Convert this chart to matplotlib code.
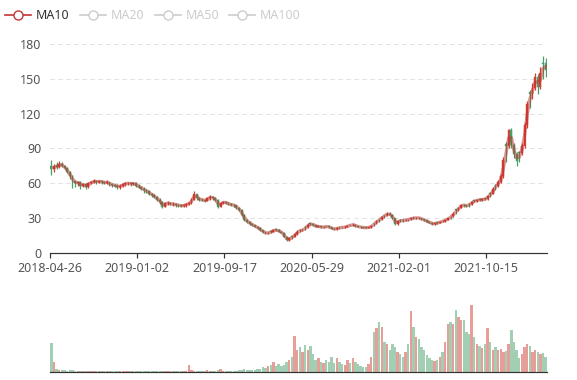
import matplotlib
matplotlib.use("Agg")
import matplotlib.pyplot as plt
import numpy as np

# ---------------- data (weekly bars) ----------------
open_ = [
    75, 72, 75.5, 74, 77, 75, 73, 70, 66, 62,
    60, 61, 58, 59, 57, 60, 61, 62, 61, 62,
    61, 60.5, 61, 59, 58.5, 58, 57, 57.5, 59, 60,
    60, 59.5, 60, 58, 57, 55.5, 54, 53, 51, 50,
    48, 46, 44, 40, 43, 43, 42, 42, 41.5, 41,
    40.5, 41, 42, 43, 46, 51, 47, 46, 45.5, 45,
    47, 48.5, 47, 45.5, 40, 43, 44, 43, 42, 41.5,
    41, 39, 37, 33, 28.5, 27, 25, 24, 22.5, 21.5,
    19.5, 18, 17, 18.8, 18.5, 20.3, 20, 18.5, 17.5, 14,
    11, 14.5, 14, 16, 20, 19.5, 22.5, 22, 25.5, 25,
    24, 22.7, 23, 22, 23.3, 23, 22, 21, 20.5, 22.3,
    22.3, 22, 22.5, 24.2, 24, 24.5, 23, 22.7, 22, 22.2,
    21.8, 22, 25.8, 25.5, 29.3, 29, 33, 32.5, 34, 33,
    30, 25, 28.5, 28.6, 28, 29.3, 29, 30.6, 30, 30.5,
    30, 29, 28, 27, 26, 25, 26.3, 26, 27.8, 27.5,
    28.5, 31.8, 31.5, 37.5, 37, 39, 41.5, 41, 42.5, 42,
    45.5, 45, 46.5, 46, 47, 46.5, 51.5, 51, 58.5, 58,
    61, 66, 94, 92, 106, 93, 85, 87, 86, 92,
    110, 139, 137, 142, 152, 143, 164, 164,
]
close = [
    72, 75, 74, 77, 75, 73, 70, 66, 62, 60,
    61, 58, 59, 57, 60, 61, 62, 61, 62, 61,
    60.5, 61, 59, 58.5, 58, 57, 57.5, 59, 60, 60,
    59.5, 60, 58, 57, 55.5, 54, 53, 51, 50, 48,
    46, 44, 40, 43, 43, 42, 42, 41.5, 41, 40.5,
    41, 42, 43, 46, 51, 47, 46, 45.5, 45, 47,
    48.5, 47, 45.5, 40, 43, 44, 43, 42, 41.5, 41,
    39, 37, 33, 28.5, 27, 25, 24, 22.5, 21.5, 19.5,
    18, 17, 17.5, 18.5, 19.5, 20, 18.5, 17.5, 14, 11,
    12.5, 14, 16, 18.5, 19.5, 20, 22, 24.5, 25, 24,
    22.7, 23, 22, 22.5, 23, 22, 21, 20.5, 21.5, 22,
    22, 22.5, 23.5, 24, 24.5, 23, 22.7, 22, 21.8, 21.8,
    22, 23.5, 25.5, 27.5, 29, 31, 32.5, 34, 33, 30,
    25, 27.5, 28, 28, 28.4, 29, 30, 30, 30.5, 30,
    29, 28, 27, 26, 25, 25.5, 26, 27, 27.5, 28.5,
    30, 31.5, 34, 37, 39, 41.5, 41, 40.5, 42, 44,
    45, 45.5, 46, 46, 46.5, 49, 51, 55, 58, 61,
    66, 80, 92, 106, 93, 85, 79, 86, 92, 110,
    128, 137, 142, 152, 143, 155, 163, 158,
]
high = [
    80, 77, 78, 79, 78, 76, 74, 71, 67, 63,
    62, 62, 60, 60, 61, 62, 63.5, 63, 63, 63,
    62, 62.5, 61.5, 60, 59.5, 59, 59, 60, 61, 61.5,
    61, 61, 61, 59, 58, 57, 55, 54, 52, 51,
    49, 47, 45, 44, 44.5, 44, 43.5, 43, 42.5, 42,
    42, 43, 44, 47, 53, 51, 48, 47, 46.5, 48,
    50, 49.5, 48, 46.5, 44, 45, 45, 44, 43, 42.5,
    41.5, 39.5, 37.5, 33.5, 29.5, 27.5, 25.5, 24.5, 23, 22,
    20, 18.5, 18.5, 19.5, 20.5, 21, 20.5, 19, 18, 14.5,
    13.5, 15, 17, 19.5, 20.5, 21, 23, 26, 27, 25.5,
    24.5, 24, 23.5, 23, 23.5, 23.5, 22.5, 21.5, 22, 22.5,
    22.5, 23, 24, 24.5, 25.5, 25, 23.5, 23, 22.5, 22.5,
    22.5, 24, 26, 28, 29.5, 31.5, 33, 35, 35, 33.5,
    30.5, 28, 29, 29, 29, 29.5, 30.5, 31, 31, 31,
    30.5, 29.5, 28.5, 27.5, 26.5, 26, 26.5, 27.5, 28, 29,
    30.5, 32, 35, 38, 40, 42, 42.5, 41.5, 43, 45,
    46, 46.5, 47, 47.5, 47.5, 50, 52.5, 56.5, 59, 63,
    68, 83, 96, 107, 108, 95, 87, 88, 95, 113,
    131, 140, 146, 155, 154, 160, 170, 168,
]
low = [
    67, 70, 72, 73, 74, 72, 69, 64, 56, 57,
    58, 55, 56.5, 55, 56, 59, 60, 59.5, 60, 59.5,
    59, 59.5, 57.5, 57, 56.5, 55, 55.5, 56.5, 58, 58.5,
    58, 58.5, 57, 56, 54, 52, 51.5, 50, 48.5, 47,
    45, 42.5, 38.5, 39.5, 41.5, 41, 40.5, 40, 40, 39.5,
    39.5, 40, 41.5, 42.5, 45.5, 46, 45, 44.5, 44, 44.5,
    46, 46, 45, 38.5, 39.5, 42.5, 42.5, 41.5, 40.5, 40,
    38, 36, 32, 27.5, 26, 24.5, 23.5, 22, 20.5, 19,
    17.5, 16.5, 16.5, 17, 18, 19, 18, 17, 13.5, 10,
    10.5, 12, 13.5, 15.5, 18, 19, 19.5, 21.5, 24, 23.5,
    22, 22, 21.5, 21.5, 22, 21.5, 20.5, 20, 20, 21,
    21.5, 21.5, 22, 23, 23.5, 22.5, 22, 21.5, 21.2, 21.2,
    21.3, 21.7, 23, 25, 27, 28.5, 30.5, 32, 32.5, 29,
    24, 24.5, 26.5, 27, 27.5, 27.8, 28.5, 29.3, 29.5, 29.5,
    28.5, 27.5, 26.5, 25.5, 24.5, 24.5, 25, 25.5, 26.5, 27,
    28, 29.5, 31, 33.5, 36, 38.5, 40, 39.5, 40, 41.5,
    43.5, 44, 44.5, 45, 45.5, 46, 48.5, 50.5, 54, 57,
    60, 65, 78, 90, 90, 82, 75, 78, 84, 90,
    108, 125, 133, 140, 137, 141, 150, 152,
]
volume = [
    29, 10, 3, 2.5, 2, 2, 1.5, 2, 2.5, 1.5,
    1.5, 1.2, 1.5, 1.2, 1, 1.2, 1, 1, 1.2, 1,
    1, 1, 1.2, 1, 1, 1, 1, 1.2, 1, 1,
    1, 1, 1, 1, 1, 1, 1, 1, 1.2, 1,
    1, 1, 1.5, 1, 1, 1, 1.5, 1, 1, 1.5,
    1, 1.5, 7, 2, 1.5, 1, 1, 1, 1, 2,
    1.5, 1, 1.5, 2, 3, 1.5, 1.5, 1, 1.5, 1.5,
    1.5, 2, 2, 3, 2.5, 2, 2, 2.5, 3, 3.5,
    5, 4, 6, 7, 10, 6, 8, 6, 7, 10,
    12, 15, 36, 22, 25, 20, 27, 22, 26, 18,
    12, 14, 10, 9, 12, 10, 15, 9, 14, 10,
    8, 7, 12, 9, 14, 10, 8, 6, 5, 5,
    8, 15, 40, 44, 50, 45, 30, 28, 22, 28,
    25, 20, 18, 15, 20, 28, 61, 45, 35, 33,
    25, 22, 17, 14, 12, 11, 12, 15, 20, 30,
    48, 50, 48, 62, 55, 52, 52, 40, 38, 67,
    35, 28, 26, 24, 28, 44, 30, 22, 25, 22,
    23, 20, 21, 28, 42, 30, 22, 14, 18, 25,
    28, 26, 20, 22, 20, 18, 19, 15,
]
tick_index = [0, 33, 66, 99, 132, 165]
tick_labels = ["2018-04-26", "2019-01-02", "2019-09-17",
               "2020-05-29", "2021-02-01", "2021-10-15"]
y_ticks = [0, 30, 60, 90, 120, 150, 180]
legend_names = ["MA10", "MA20", "MA50", "MA100"]
ma_window = 2  # 2 weekly bars = 10 trading days

# ---------------- styling ----------------
UP = "#d23f33"
DOWN = "#46a068"
MA_COLOR = "#c23531"
FONT = "Noto Sans"
plt.rcParams["font.family"] = [FONT, "DejaVu Sans"]

W, H = 577, 380
PX = 0.72  # one pixel in points
fig = plt.figure(figsize=(W / 100, H / 100), dpi=100)
L, R = 50, 547
ax = fig.add_axes([L / W, (H - 253) / H, (R - L) / W, 209 / H])
axv = fig.add_axes([L / W, (H - 372) / H, (R - L) / W, 72 / H])

o = np.array(open_, float)
c = np.array(close, float)
hi = np.array(high, float)
lo = np.array(low, float)
v = np.array(volume, float)
n = len(c)
x = np.arange(n)
up = c >= o
cols = np.where(up, UP, DOWN)

# candles
ax.vlines(x, lo, hi, colors=cols, lw=0.9, zorder=3)
body = np.maximum(np.abs(c - o), 0.25)
ax.bar(x, body, bottom=np.minimum(o, c), width=0.7, color=cols,
       edgecolor=cols, lw=0.3, zorder=3)

# MA10
ma = np.convolve(c, np.ones(ma_window) / ma_window, mode="valid")
ax.plot(x[ma_window - 1:], ma, color=MA_COLOR, lw=2.4, alpha=0.5,
        zorder=4, solid_joinstyle="round")

ax.set_xlim(-0.5, n - 0.5)
ax.set_ylim(0, 180)
ax.set_yticks(y_ticks)
ax.yaxis.grid(True, ls=(0, (4, 4)), color="#e0e0e0", lw=1 * PX)
ax.set_axisbelow(True)
for s in ("left", "right", "top"):
    ax.spines[s].set_visible(False)
ax.spines["bottom"].set_color("#333333")
ax.spines["bottom"].set_linewidth(1.2 * PX)
ax.spines["bottom"].set_zorder(5)
ax.set_xticks(np.array(tick_index) - 0.5)
ax.set_xticklabels(tick_labels)
ax.tick_params(axis="x", length=5 * PX, width=1.2 * PX, color="#333333",
               labelcolor="#555555", labelsize=9, pad=3)
ax.tick_params(axis="y", length=0, labelcolor="#555555", labelsize=9, pad=6)

# volume
axv.bar(x, v, width=0.9, color=cols, alpha=0.5, lw=0)
axv.set_xlim(-0.5, n - 0.5)
axv.set_ylim(0, 72)
for s in ("left", "right", "top"):
    axv.spines[s].set_visible(False)
axv.spines["bottom"].set_color("#333333")
axv.spines["bottom"].set_linewidth(1.2 * PX)
axv.set_xticks([])
axv.set_yticks([])

# legend (pixel overlay)
lax = fig.add_axes([0, 0, 1, 1], zorder=10)
lax.set_xlim(0, W)
lax.set_ylim(H, 0)
lax.axis("off")
icon_x = [5, 80, 155, 229]
for i, name in enumerate(legend_names):
    col = MA_COLOR if i == 0 else "#cccccc"
    tcol = "#333333" if i == 0 else "#cccccc"
    x0 = icon_x[i]
    lax.plot([x0, x0 + 26], [15, 15], color=col, lw=1.2)
    lax.plot([x0 + 13], [15], marker="o", ms=6.5, mfc="white", mec=col, mew=1.0)
    lax.text(x0 + 31, 15.5, name, color=tcol, fontsize=9, va="center", ha="left")

fig.savefig("out.png", dpi=100)
